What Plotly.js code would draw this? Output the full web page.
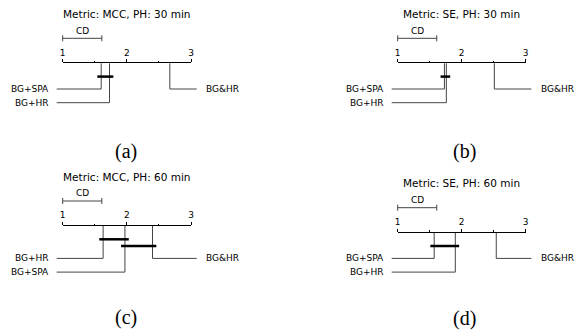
<!DOCTYPE html>
<html>
<head>
<meta charset="utf-8">
<script src="https://cdn.plot.ly/plotly-3.0.1.min.js"></script>
<style>html,body{margin:0;padding:0;background:#fff;}#chart{width:576px;height:333px;}</style>
</head>
<body>
<div id="chart"></div>
<script>
// ---------- data ----------
const panelCaptions = ['(a)', '(b)', '(c)', '(d)'];
const panelTitles = ['Metric: MCC, PH: 30 min', 'Metric: SE, PH: 30 min', 'Metric: MCC, PH: 60 min', 'Metric: SE, PH: 60 min'];
const rankTicks = [1, 2, 3];
const rankMinorTicks = [1.5, 2.5];
const cdValues = [0.61, 0.61, 0.61, 0.61];

const methodsA = ['BG+SPA', 'BG+HR', 'BG&HR'];
const ranksA = [1.60, 1.73, 2.67];
const cliquesA = [['BG+SPA', 'BG+HR']];

const methodsB = ['BG+SPA', 'BG+HR', 'BG&HR'];
const ranksB = [1.73, 1.76, 2.51];
const cliquesB = [['BG+SPA', 'BG+HR']];

const methodsC = ['BG+HR', 'BG+SPA', 'BG&HR'];
const ranksC = [1.63, 1.97, 2.40];
const cliquesC = [['BG+HR', 'BG+SPA'], ['BG+SPA', 'BG&HR']];

const methodsD = ['BG+SPA', 'BG+HR', 'BG&HR'];
const ranksD = [1.57, 1.90, 2.54];
const cliquesD = [['BG+SPA', 'BG+HR']];

// ---------- layout geometry (pixels) ----------
const W = 576, H = 333;
const geom = [
  {x0: 0,   x1: 288, y0: 0,   y1: 166, axL: 62.7,  axR: 191,   axY: 63.3,  capX: 126,   capY: 151},
  {x0: 288, x1: 576, y0: 0,   y1: 166, axL: 397.7, axR: 525.7, axY: 63.3,  capX: 464,   capY: 151},
  {x0: 0,   x1: 288, y0: 166, y1: 333, axL: 62.7,  axR: 191,   axY: 226,   capX: 126,   capY: 317},
  {x0: 288, x1: 576, y0: 166, y1: 333, axL: 397.7, axR: 525.7, axY: 232.7, capX: 464,   capY: 318}
];
const panels = [
  {m: methodsA, r: ranksA, c: cliquesA},
  {m: methodsB, r: ranksB, c: cliquesB},
  {m: methodsC, r: ranksC, c: cliquesC},
  {m: methodsD, r: ranksD, c: cliquesD}
];

const FONT = 'DejaVu Sans, sans-serif';
const LINE = '#444';
const traces = [];
const annotations = [];
const layout = {
  width: W, height: H,
  margin: {l: 0, r: 0, t: 0, b: 0},
  paper_bgcolor: '#fff', plot_bgcolor: 'rgba(0,0,0,0)',
  showlegend: false,
  font: {family: FONT, size: 9, color: '#000'}
};

const rMin = rankTicks[0], rMax = rankTicks[rankTicks.length - 1];

panels.forEach((p, k) => {
  const g = geom[k];
  const n = k + 1;        // data subplot index
  const a = k + 5;        // axis-only subplot index
  const pxPerRank = (g.axR - g.axL) / (rMax - rMin);
  const pxToRank = px => rMin + (px - g.axL) / pxPerRank;
  const xs = 'x' + n, ys = 'y' + n;

  // data subplot covering the whole panel; y in pixels below axis line
  layout['xaxis' + n] = {domain: [g.x0 / W, g.x1 / W], range: [pxToRank(g.x0), pxToRank(g.x1)],
    visible: false, fixedrange: true, anchor: ys};
  layout['yaxis' + n] = {domain: [1 - g.y1 / H, 1 - g.y0 / H], range: [g.y1 - g.axY, g.y0 - g.axY],
    visible: false, fixedrange: true, anchor: xs};

  // axis-only subplot: real rank axis
  layout['xaxis' + a] = {domain: [g.axL / W, g.axR / W], range: [rMin, rMax], side: 'top',
    anchor: 'y' + a, showline: true, linecolor: '#000', linewidth: 1,
    ticks: 'outside', ticklen: 3, tickwidth: 1, tickcolor: '#000',
    tickmode: 'array', tickvals: rankTicks, ticktext: rankTicks.map(String),
    tickfont: {family: FONT, size: 9, color: '#000'},
    minor: {tickmode: 'array', tickvals: rankMinorTicks, ticks: 'outside', ticklen: 1.5, tickwidth: 1, tickcolor: '#000', showgrid: false},
    showgrid: false, zeroline: false, fixedrange: true};
  layout['yaxis' + a] = {domain: [1 - (g.axY + 4) / H, 1 - g.axY / H], range: [0, 1],
    visible: false, fixedrange: true, anchor: 'x' + a};
  // invisible carrier trace so the axis subplot is drawn
  traces.push({type: 'scatter', mode: 'markers', xaxis: 'x' + a, yaxis: 'y' + a, hoverinfo: 'skip',
    x: [rMin, rMax], y: [0.5, 0.5], marker: {opacity: 0, size: 1}});

  // CD bar
  const cd = cdValues[k];
  const cdY = -25;
  traces.push({type: 'scatter', mode: 'lines', xaxis: xs, yaxis: ys, hoverinfo: 'skip',
    x: [rMin, rMin + cd, null, rMin, rMin, null, rMin + cd, rMin + cd],
    y: [cdY, cdY, null, cdY - 3, cdY + 3, null, cdY - 3, cdY + 3],
    line: {color: LINE, width: 1}});
  annotations.push({xref: xs, yref: ys, x: rMin + cd / 2, y: -32.6, text: 'CD', showarrow: false,
    font: {family: FONT, size: 9, color: '#000'}, xanchor: 'center', yanchor: 'middle'});

  // title
  annotations.push({xref: xs, yref: ys, x: (rMin + rMax) / 2, y: -49.5, text: panelTitles[k], showarrow: false,
    font: {family: FONT, size: 10.5, color: '#000'}, xanchor: 'center', yanchor: 'middle'});

  // methods: sorted by rank; first half on the left
  const order = p.r.map((v, i) => i).sort((i, j) => p.r[i] - p.r[j]);
  const nLeft = Math.ceil(order.length / 2);
  const rowBase = 19 + 6.7 * p.c.length, rowStep = 13.7;
  const leftEnd = pxToRank(g.axL - 6), rightEnd = pxToRank(g.axR + 5.7);
  order.forEach((idx, pos) => {
    const rank = p.r[idx];
    const isLeft = pos < nLeft;
    const row = isLeft ? pos : (order.length - 1 - pos);
    const yRow = rowBase + row * rowStep;
    const xEnd = isLeft ? leftEnd : rightEnd;
    traces.push({type: 'scatter', mode: 'lines', xaxis: xs, yaxis: ys, hoverinfo: 'skip',
      x: [rank, rank, xEnd], y: [0, yRow, yRow], line: {color: LINE, width: 1}});
    annotations.push({xref: xs, yref: ys, x: isLeft ? pxToRank(g.axL - 12) : pxToRank(g.axR + 13),
      y: yRow, text: p.m[idx], showarrow: false, xanchor: isLeft ? 'right' : 'left', yanchor: 'middle',
      font: {family: FONT, size: 9, color: '#000'}});
  });

  // cliques
  p.c.forEach((cl, j) => {
    const rs = cl.map(name => p.r[p.m.indexOf(name)]);
    const lo = Math.min(...rs) - 0.06, hi = Math.max(...rs) + 0.06;
    const cy = 13.3 + 6.8 * j;
    traces.push({type: 'scatter', mode: 'lines', xaxis: xs, yaxis: ys, hoverinfo: 'skip',
      x: [lo, hi], y: [cy, cy], line: {color: '#000', width: 2.5}});
  });

  // panel caption
  annotations.push({xref: 'paper', yref: 'paper', x: g.capX / W, y: 1 - g.capY / H, text: panelCaptions[k],
    showarrow: false, xanchor: 'center', yanchor: 'middle',
    font: {family: 'Liberation Serif, Times New Roman, serif', size: 20, color: '#000'}});
});

layout.annotations = annotations;
Plotly.newPlot('chart', traces, layout, {staticPlot: true, displayModeBar: false});
</script>
</body>
</html>
